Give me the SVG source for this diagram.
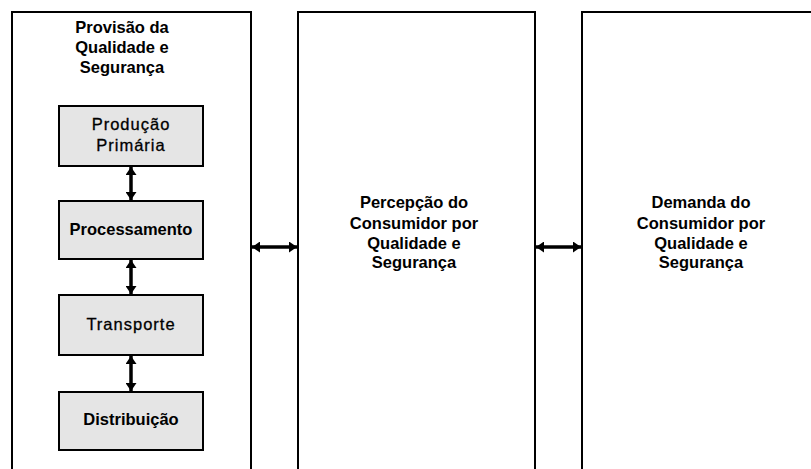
<svg xmlns="http://www.w3.org/2000/svg" width="811" height="469" viewBox="0 0 811 469">
  <style>
    .panel { fill: #ffffff; stroke: #000000; stroke-width: 2; }
    .step { fill: #e5e5e5; stroke: #000000; stroke-width: 2; }
    .title { font-family: "Liberation Sans", Arial, sans-serif; font-size: 16.5px; font-weight: bold; fill: #000000; text-anchor: middle; }
    .label { font-family: "Liberation Sans", Arial, sans-serif; font-size: 16.5px; fill: #000000; stroke: #000000; stroke-width: 0.3; text-anchor: middle; }
    .bold { font-weight: bold; stroke: none; }
    .link { stroke: #000000; stroke-width: 3.5; fill: none; marker-start: url(#head); marker-end: url(#head); }
  </style>
  <defs>
    <marker id="head" viewBox="0 0 8 11" refX="8" refY="5.5" markerWidth="8" markerHeight="11" orient="auto-start-reverse" markerUnits="userSpaceOnUse">
      <path d="M0,0 L8,5.5 L0,11 Z" fill="#000000"/>
    </marker>
  </defs>
  <rect width="811" height="469" fill="#ffffff"/>

  <!-- supply column -->
  <g id="provisao">
    <path class="panel" d="M12,470 V12 H251 V470"/>
    <text class="title" x="122" y="33">Provisão da</text>
    <text class="title" x="122" y="53">Qualidade e</text>
    <text class="title" x="122" y="73">Segurança</text>
  </g>

  <g id="producao">
    <rect class="step" x="59" y="106" width="144" height="60"/>
    <text class="label" x="131" y="130" letter-spacing="1">Produção</text>
    <text class="label" x="131" y="151" letter-spacing="1">Primária</text>
  </g>

  <g id="processamento">
    <rect class="step" x="59" y="201" width="144" height="58"/>
    <text class="label bold" x="131" y="235">Processamento</text>
  </g>

  <g id="transporte">
    <rect class="step" x="59" y="295" width="144" height="60"/>
    <text class="label" x="131" y="330" letter-spacing="1">Transporte</text>
  </g>

  <g id="distribuicao">
    <rect class="step" x="59" y="392" width="144" height="58"/>
    <text class="label bold" x="131" y="425">Distribuição</text>
  </g>

  <!-- perception column -->
  <g id="percepcao">
    <path class="panel" d="M298,470 V12 H535 V470"/>
    <text class="title" x="414" y="208">Percepção do</text>
    <text class="title" x="414" y="229">Consumidor por</text>
    <text class="title" x="414" y="249">Qualidade e</text>
    <text class="title" x="414" y="268">Segurança</text>
  </g>

  <!-- demand column -->
  <g id="demanda">
    <path class="panel" d="M582,470 V12 H813"/>
    <text class="title" x="701" y="208">Demanda do</text>
    <text class="title" x="701" y="229">Consumidor por</text>
    <text class="title" x="701" y="249">Qualidade e</text>
    <text class="title" x="701" y="268">Segurança</text>
  </g>

  <!-- connectors -->
  <g id="connectors">
    <line class="link" x1="131" y1="167" x2="131" y2="200"/>
    <line class="link" x1="131" y1="260" x2="131" y2="294"/>
    <line class="link" x1="131" y1="356" x2="131" y2="391"/>
    <line class="link" x1="252" y1="247" x2="297" y2="247"/>
    <line class="link" x1="536" y1="247" x2="581" y2="247"/>
  </g>
</svg>
